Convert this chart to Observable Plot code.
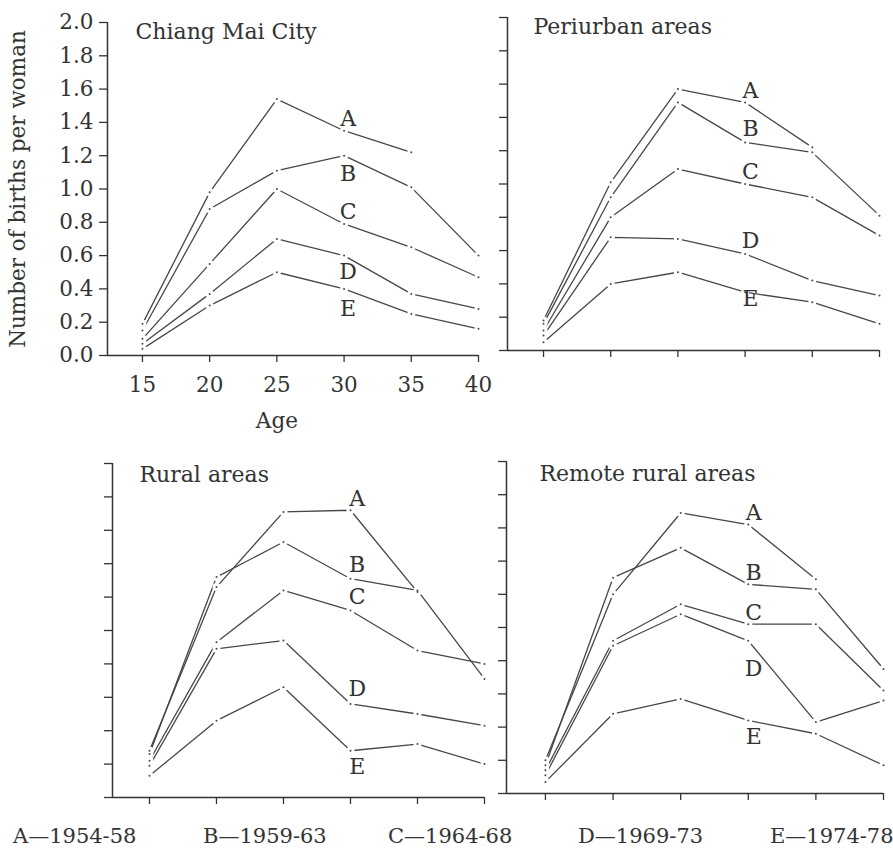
<!DOCTYPE html>
<html><head><meta charset="utf-8">
<script src="https://cdn.jsdelivr.net/npm/d3@7"></script>
<script src="https://cdn.jsdelivr.net/npm/@observablehq/plot@0.6"></script>
<style>
body{margin:0;background:#fff;}
#wrap{position:relative;width:893px;height:849px;overflow:hidden;font-family:"DejaVu Serif",serif;background:#fff;}
#wrap > svg, #wrap > figure{position:absolute;margin:0;}
</style></head><body><div id="wrap"></div>
<script>
// ---- data ----
const ages = [15, 20, 25, 30, 35, 40];
const periods = ["A", "B", "C", "D", "E"];
const periodYears = ["1954-58", "1959-63", "1964-68", "1969-73", "1974-78"];
const yTicks = [0, 0.2, 0.4, 0.6, 0.8, 1.0, 1.2, 1.4, 1.6, 1.8, 2.0];

// births per woman by age group; rows = periods A..E, null = not observed
const chiangMai = [
  [0.19, 0.98, 1.54, 1.35, 1.22, null],
  [0.15, 0.88, 1.11, 1.20, 1.01, 0.60],
  [0.10, 0.55, 1.00, 0.79, 0.65, 0.47],
  [0.07, 0.37, 0.70, 0.60, 0.37, 0.28],
  [0.04, 0.30, 0.50, 0.40, 0.25, 0.16]
];
const periurban = [
  [0.18, 1.01, 1.57, 1.49, 1.22, null],
  [0.16, 0.92, 1.49, 1.25, 1.19, 0.81],
  [0.12, 0.80, 1.09, 1.00, 0.92, 0.69],
  [0.09, 0.68, 0.67, 0.58, 0.42, 0.33],
  [0.05, 0.40, 0.47, 0.35, 0.29, 0.16]
];
const rural = [
  [0.28, 1.26, 1.71, 1.72, 1.23, null],
  [0.26, 1.32, 1.53, 1.31, 1.24, 0.71],
  [0.22, 0.93, 1.24, 1.12, 0.88, 0.80],
  [0.19, 0.89, 0.94, 0.56, 0.50, 0.43],
  [0.13, 0.46, 0.66, 0.28, 0.32, 0.20]
];
const remoteRural = [
  [0.20, 1.20, 1.69, 1.62, 1.29, null],
  [0.17, 1.30, 1.48, 1.26, 1.23, 0.75],
  [0.14, 0.92, 1.14, 1.02, 1.02, 0.62],
  [0.11, 0.89, 1.08, 0.92, 0.43, 0.56],
  [0.07, 0.48, 0.57, 0.44, 0.36, 0.17]
];
// positions of the period letters next to each curve (data units)
const chiangMaiLabelY = [1.42, 1.09, 0.86, 0.50, 0.28];
const periurbanLabelY = [1.56, 1.33, 1.07, 0.66, 0.31];
const ruralLabelY = [1.79, 1.39, 1.20, 0.65, 0.18];
const remoteRuralLabelY = [1.69, 1.33, 1.09, 0.75, 0.34];
const panelTitles = ["Chiang Mai City", "Periurban areas", "Rural areas", "Remote rural areas"];

// ---- drawing ----
const wrap = document.getElementById("wrap");
const INK = "#333";
const LINE = "#474747";

function makePanel(cfg) {
  const {rows, labY, labX, title, L, R, T, B, left, top, w, h, x0, first, tdx, tdy} = cfg;
  const data = [];
  periods.forEach((p, i) => ages.forEach((a, j) => {
    const v = rows[i][j];
    if (v != null) data.push({period: p, age: a, value: v});
  }));
  const labels = periods.map((p, i) => ({period: p, x: labX, y: labY[i]}));
  const marks = [
    Plot.ruleY([0], {stroke: INK, strokeWidth: 1.5}),
    Plot.ruleX([x0], {y1: 0, y2: 2, stroke: INK, strokeWidth: 1.5}),
    Plot.axisY({ticks: yTicks, tickSize: 8, tickPadding: 6,
      tickFormat: first ? d => d.toFixed(1) : () => "", label: null, strokeWidth: 1.3}),
    Plot.axisX({ticks: ages, tickSize: 7, tickPadding: 14,
      tickFormat: first ? d => String(d) : () => "", label: null, strokeWidth: 1.3}),
    Plot.line(data, {x: "age", y: "value", z: "period", stroke: LINE, strokeWidth: 1.3}),
    Plot.dot(data, {x: "age", y: "value", r: 4, fill: "white"}),
    Plot.dot(data, {x: "age", y: "value", r: 1, fill: LINE}),
    Plot.text(labels, {x: "x", y: "y", text: "period", fontSize: 22, fill: INK}),
    Plot.text([title], {frameAnchor: "top-left", dx: tdx, dy: tdy, textAnchor: "start", fontSize: 22, fill: INK})
  ];
  if (first) {
    marks.push(Plot.text(["Number of births per woman"], {frameAnchor: "left", textAnchor: "middle", lineAnchor: "middle", rotate: -90, dx: -89, fontSize: 21.5, fill: INK}));
    marks.push(Plot.text(["Age"], {x: 25, frameAnchor: "bottom", dy: 72, fontSize: 21.5, fill: INK}));
  }
  const chart = Plot.plot({
    width: w, height: h,
    marginLeft: L - left, marginRight: left + w - R,
    marginTop: T - top, marginBottom: top + h - B,
    x: {domain: [x0, 40]},
    y: {domain: [0, 2]},
    style: {fontFamily: "DejaVu Serif, serif", fontSize: "21.5px", color: INK, background: "white", overflow: "visible"},
    marks
  });
  chart.style.left = left + "px";
  chart.style.top = top + "px";
  wrap.appendChild(chart);
}

makePanel({rows: chiangMai, labY: chiangMaiLabelY, labX: 30.3, title: panelTitles[0],
  L: 107, R: 478, T: 22, B: 355, left: 0, top: 0, w: 492, h: 440, x0: 12.4, first: true, tdx: 28, tdy: 1});
makePanel({rows: periurban, labY: periurbanLabelY, labX: 30.4, title: panelTitles[1],
  L: 507, R: 879, T: 17, B: 350, left: 492, top: 0, w: 401, h: 440, x0: 12.32, first: false, tdx: 26, tdy: 1});
makePanel({rows: rural, labY: ruralLabelY, labX: 30.5, title: panelTitles[2],
  L: 112, R: 484, T: 463, B: 797, left: 0, top: 440, w: 492, h: 372, x0: 12.24, first: false, tdx: 27, tdy: 3});
makePanel({rows: remoteRural, labY: remoteRuralLabelY, labX: 30.4, title: panelTitles[3],
  L: 506, R: 883, T: 461, B: 793, left: 492, top: 440, w: 401, h: 372, x0: 12.12, first: false, tdx: 33, tdy: 4});

// legend below the panels
const legendX = [13, 203, 388, 578, 770];
const leg = d3.select(wrap).append("svg")
  .attr("width", 893).attr("height", 37)
  .style("left", "0px").style("top", "812px");
leg.selectAll("text").data(periods).join("text")
  .attr("x", (d, i) => legendX[i]).attr("y", 31)
  .attr("fill", INK)
  .style("font-family", "DejaVu Serif, serif").style("font-size", "21px")
  .text((d, i) => d + "\u2014" + periodYears[i]);
</script></body></html>
